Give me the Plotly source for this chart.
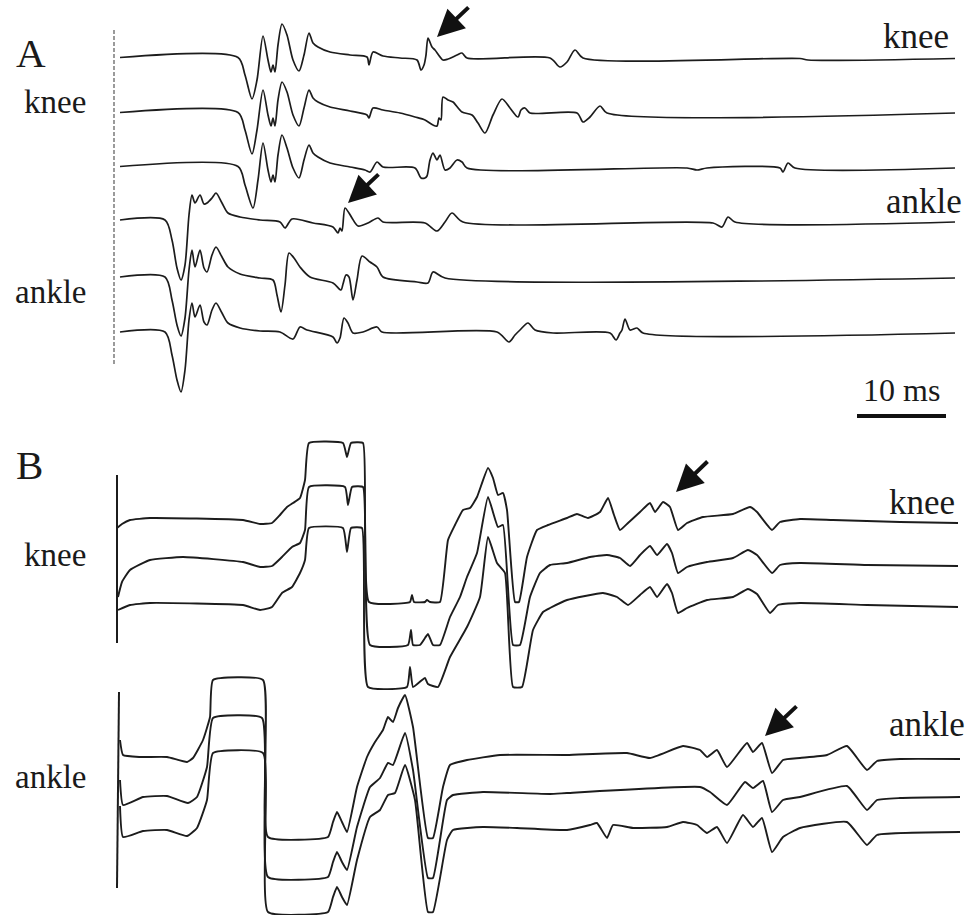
import plotly.graph_objects as go

# ---------------- Panel A traces (time units, amplitude units; screen-like scale) ----------------
a_knee1_x = [120, 238, 245, 252, 257, 263, 268, 271, 273, 275, 278, 282, 287, 293, 299, 304, 309, 313, 318, 330, 350, 367, 369, 373, 383, 400, 417, 421, 424, 426, 428, 432, 435, 443, 448, 457, 462, 467, 550, 560, 567, 575, 583, 800, 808, 955]
a_knee1_y = [57.5, 57.5, 75, 99, 80, 36, 60, 72, 65, 72, 45, 24, 35, 60, 71, 55, 33, 43, 47, 52, 55, 57, 65, 52, 56, 58, 60, 70, 65, 55, 38, 47, 50, 60, 59, 55, 53, 58, 58, 67, 62, 50, 58, 58.5, 60, 58.5]

a_knee2_x = [120, 238, 245, 252, 257, 263, 268, 271, 273, 275, 278, 282, 287, 293, 299, 304, 309, 313, 318, 330, 350, 367, 369, 373, 383, 400, 415, 425, 433, 437, 439, 441, 443, 448, 453, 462, 472, 478, 485, 493, 502, 510, 518, 521, 525, 530, 577, 583, 590, 600, 607, 955]
a_knee2_y = [112.5, 112.5, 130, 154, 130, 90, 115, 126, 118, 126, 100, 82, 92, 115, 126, 108, 90, 98, 102, 107, 111, 115, 118, 108, 110, 113, 117, 120, 125, 126, 118, 120, 97, 100, 102, 112, 115, 123, 133, 115, 99, 108, 117, 110, 108, 113, 113, 122, 117, 106, 113, 113]

a_knee3_x = [120, 238, 245, 253, 258, 263, 268, 271, 273, 275, 278, 282, 287, 293, 299, 304, 309, 313, 318, 330, 350, 365, 370, 377, 383, 415, 421, 425, 427, 430, 433, 437, 440, 445, 450, 457, 462, 467, 687, 697, 707, 780, 783, 788, 795, 955]
a_knee3_y = [166.5, 166.5, 185, 208, 180, 143, 170, 182, 175, 182, 155, 135, 148, 168, 178, 160, 145, 153, 157, 163, 167, 170, 172, 162, 167, 168, 178, 178, 176, 160, 153, 160, 155, 170, 168, 160, 162, 168, 168, 170, 168, 168, 172, 163, 168, 168]

a_ankle1_x = [120, 165, 172, 177, 181, 185, 189, 192, 195, 200, 204, 207, 212, 216, 222, 228, 240, 260, 280, 285, 292, 313, 333, 338, 340, 342, 345, 349, 352, 358, 368, 378, 383, 425, 437, 445, 452, 463, 713, 722, 728, 735, 955]
a_ankle1_y = [220, 220, 240, 268, 280, 265, 215, 195, 203, 195, 204, 203, 198, 193, 203, 213, 217, 220, 222, 228, 219, 223, 227, 233, 228, 231, 208, 213, 218, 226, 223, 218, 222, 223, 231, 222, 213, 222, 223, 227, 217, 222, 222]

a_ankle2_x = [120, 165, 172, 177, 181, 185, 189, 192, 195, 200, 204, 207, 212, 216, 222, 228, 240, 260, 273, 277, 281, 285, 289, 294, 300, 310, 333, 341, 343, 346, 349, 353, 357, 362, 370, 377, 383, 417, 428, 433, 445, 955]
a_ankle2_y = [277, 277, 300, 325, 336, 318, 270, 250, 267, 250, 268, 272, 255, 247, 257, 267, 274, 278, 280, 295, 312, 285, 253, 258, 267, 277, 283, 290, 284, 275, 277, 300, 280, 256, 262, 267, 277, 282, 283, 272, 278, 278]

a_ankle3_x = [120, 165, 172, 177, 181, 185, 189, 192, 195, 200, 204, 207, 212, 216, 222, 228, 240, 260, 280, 293, 300, 307, 333, 337, 340, 344, 348, 353, 363, 377, 382, 497, 509, 515, 520, 528, 535, 553, 610, 616, 620, 622, 625, 630, 637, 643, 955]
a_ankle3_y = [332, 332, 355, 380, 392, 370, 320, 303, 317, 305, 322, 325, 310, 303, 313, 323, 328, 331, 332, 339, 327, 330, 337, 343, 338, 318, 323, 333, 332, 327, 332, 332, 342, 335, 330, 323, 330, 333, 333, 340, 333, 330, 319, 330, 328, 333, 333]

# ---------------- Panel B traces ----------------
b_knee1_x = [117, 122, 130, 150, 243, 260, 272, 280, 287, 293, 300, 305, 309, 343, 347, 351, 363, 369, 410, 412, 414, 425, 427, 430, 440, 448, 455, 463, 470, 477, 488, 493, 498, 503, 507, 515, 519, 527, 537, 548, 567, 577, 588, 600, 608, 614, 620, 628, 640, 650, 655, 663, 670, 678, 687, 703, 733, 750, 757, 772, 780, 800, 833, 900, 958]
b_knee1_y = [528, 524, 520, 518, 520, 524, 523, 515, 507, 503, 498, 480, 443, 443, 457, 443, 443, 602, 602, 595, 602, 602, 600, 602, 602, 540, 525, 510, 508, 497, 468, 478, 495, 493, 510, 602, 602, 557, 530, 525, 518, 514, 518, 512, 498, 515, 530, 523, 512, 503, 512, 502, 507, 530, 523, 517, 514, 507, 512, 530, 522, 519, 520, 522, 523]

b_knee2_x = [118, 122, 130, 150, 183, 243, 260, 272, 282, 292, 300, 305, 309, 345, 348, 352, 363, 370, 408, 411, 413, 420, 425, 428, 433, 440, 450, 460, 467, 477, 488, 498, 503, 513, 520, 530, 540, 550, 567, 590, 607, 620, 630, 640, 650, 657, 667, 672, 678, 687, 707, 733, 748, 757, 772, 780, 800, 867, 958]
b_knee2_y = [597, 582, 570, 560, 557, 562, 567, 566, 557, 547, 543, 530, 487, 487, 505, 487, 487, 645, 645, 630, 645, 645, 638, 634, 645, 645, 617, 597, 577, 553, 497, 527, 525, 645, 645, 597, 573, 565, 563, 557, 555, 558, 566, 555, 546, 555, 544, 553, 573, 567, 562, 558, 550, 555, 573, 565, 563, 565, 566]

b_knee3_x = [118, 130, 150, 243, 260, 272, 282, 292, 300, 305, 309, 343, 347, 351, 362, 368, 407, 410, 413, 422, 425, 428, 438, 450, 467, 480, 488, 497, 505, 513, 522, 533, 543, 550, 567, 603, 617, 628, 640, 650, 657, 667, 672, 678, 687, 707, 733, 748, 757, 770, 778, 800, 867, 958]
b_knee3_y = [610, 605, 603, 605, 610, 607, 593, 587, 573, 560, 528, 528, 552, 528, 528, 687, 687, 667, 687, 680, 678, 684, 687, 657, 627, 597, 537, 563, 573, 687, 687, 630, 612, 608, 600, 593, 597, 605, 595, 587, 597, 584, 593, 613, 608, 600, 597, 589, 594, 613, 605, 603, 605, 607]

b_ankle1_x = [120, 123, 140, 167, 187, 193, 203, 210, 213, 263, 268, 328, 333, 337, 342, 347, 357, 367, 375, 383, 388, 393, 398, 405, 413, 428, 433, 443, 450, 467, 500, 567, 627, 650, 683, 700, 707, 717, 727, 747, 753, 762, 772, 783, 800, 827, 847, 867, 877, 900, 960]
b_ankle1_y = [740, 755, 757, 757, 762, 758, 740, 717, 680, 680, 837, 837, 822, 812, 822, 832, 787, 757, 742, 730, 717, 722, 708, 695, 727, 838, 838, 787, 765, 760, 755, 755, 753, 758, 746, 750, 757, 750, 767, 743, 752, 743, 773, 760, 758, 755, 746, 770, 761, 759, 759]

b_ankle2_x = [120, 123, 143, 167, 188, 197, 207, 213, 262, 268, 328, 333, 337, 342, 347, 357, 370, 380, 388, 393, 405, 413, 428, 433, 447, 453, 483, 550, 567, 700, 710, 727, 745, 753, 763, 772, 783, 800, 847, 867, 877, 900, 960]
b_ankle2_y = [780, 805, 797, 796, 803, 797, 767, 718, 718, 877, 877, 862, 852, 862, 870, 827, 787, 778, 763, 765, 733, 770, 878, 878, 800, 795, 792, 794, 793, 787, 792, 805, 782, 788, 781, 812, 800, 797, 786, 810, 800, 798, 797]

b_ankle3_x = [120, 123, 143, 167, 187, 197, 207, 213, 263, 268, 328, 333, 337, 342, 347, 357, 370, 380, 388, 395, 405, 415, 428, 433, 447, 453, 483, 517, 567, 590, 597, 607, 613, 633, 667, 683, 697, 707, 717, 727, 743, 753, 762, 772, 783, 800, 847, 867, 877, 960]
b_ankle3_y = [806, 837, 831, 830, 836, 828, 800, 753, 753, 912, 912, 897, 887, 897, 905, 860, 817, 810, 795, 793, 765, 800, 912, 912, 840, 830, 827, 828, 830, 825, 823, 838, 825, 828, 827, 822, 825, 833, 827, 843, 815, 827, 818, 852, 837, 828, 822, 845, 835, 832]

# stimulus / calibration verticals
cal_a_x = [114, 114]
cal_a_y = [30, 365]
cal_bk_x = [117, 117]
cal_bk_y = [475, 643]
cal_ba_x = [119, 117]
cal_ba_y = [692, 888]

# labels
labels = ["A", "knee", "ankle", "knee", "ankle", "10 ms", "B", "knee", "ankle", "knee", "ankle"]
label_x = [14, 22, 13, 881, 884, 861, 14, 22, 13, 887, 887]
label_base = [65, 112, 302, 47, 212, 400, 477, 565, 787, 513, 735]
label_size = [41, 33, 33, 35, 35, 32, 41, 33, 33, 35, 35]

# arrows (tail -> tip)
arrow_tail = [(470, 6), (380, 173), (709, 460), (798, 705)]
arrow_tip = [(437, 37), (348, 203), (676, 492), (765, 736)]

# scale bar (10 ms)
scale_x = [857, 946]
scale_y = [416, 416]

fig = go.Figure()

ink = "#1c1c1c"
panel_a = [(a_knee1_x, a_knee1_y), (a_knee2_x, a_knee2_y), (a_knee3_x, a_knee3_y),
           (a_ankle1_x, a_ankle1_y), (a_ankle2_x, a_ankle2_y), (a_ankle3_x, a_ankle3_y)]
panel_b = [(b_knee1_x, b_knee1_y), (b_knee2_x, b_knee2_y), (b_knee3_x, b_knee3_y),
           (b_ankle1_x, b_ankle1_y), (b_ankle2_x, b_ankle2_y), (b_ankle3_x, b_ankle3_y)]

fig.add_trace(go.Scatter(x=cal_a_x, y=cal_a_y, mode="lines",
                         line=dict(color="#666666", width=1.3, dash="4px,2px"), hoverinfo="skip"))
fig.add_trace(go.Scatter(x=cal_bk_x, y=cal_bk_y, mode="lines",
                         line=dict(color=ink, width=2), hoverinfo="skip"))
fig.add_trace(go.Scatter(x=cal_ba_x, y=cal_ba_y, mode="lines",
                         line=dict(color=ink, width=2), hoverinfo="skip"))

for xs, ys in panel_a:
    fig.add_trace(go.Scatter(x=xs, y=ys, mode="lines",
                             line=dict(color=ink, width=1.7, shape="spline", smoothing=0.8),
                             hoverinfo="skip"))
for xs, ys in panel_b:
    fig.add_trace(go.Scatter(x=xs, y=ys, mode="lines",
                             line=dict(color=ink, width=1.9, shape="spline", smoothing=0.4),
                             hoverinfo="skip"))

fig.add_trace(go.Scatter(x=scale_x, y=scale_y, mode="lines",
                         line=dict(color="#111111", width=4), hoverinfo="skip"))

annotations = []
for t, x, b, s in zip(labels, label_x, label_base, label_size):
    annotations.append(dict(x=x, y=b - 0.30 * s, text=t, showarrow=False,
                            xref="x", yref="y", xanchor="left", yanchor="middle",
                            font=dict(family="Liberation Serif", size=s, color="#1a1a1a")))
for (tx, ty), (hx, hy) in zip(arrow_tail, arrow_tip):
    annotations.append(dict(x=hx, y=hy, ax=tx, ay=ty, xref="x", yref="y",
                            axref="x", ayref="y", text="", showarrow=True,
                            arrowhead=2, arrowsize=1.35, arrowwidth=4, arrowcolor="#111111"))

fig.update_layout(
    width=979, height=915,
    margin=dict(l=0, r=0, t=0, b=0),
    paper_bgcolor="white", plot_bgcolor="white",
    showlegend=False,
    xaxis=dict(range=[0, 979], visible=False, fixedrange=True),
    yaxis=dict(range=[915, 0], visible=False, fixedrange=True),
    annotations=annotations,
)

fig.write_html("out.html")
